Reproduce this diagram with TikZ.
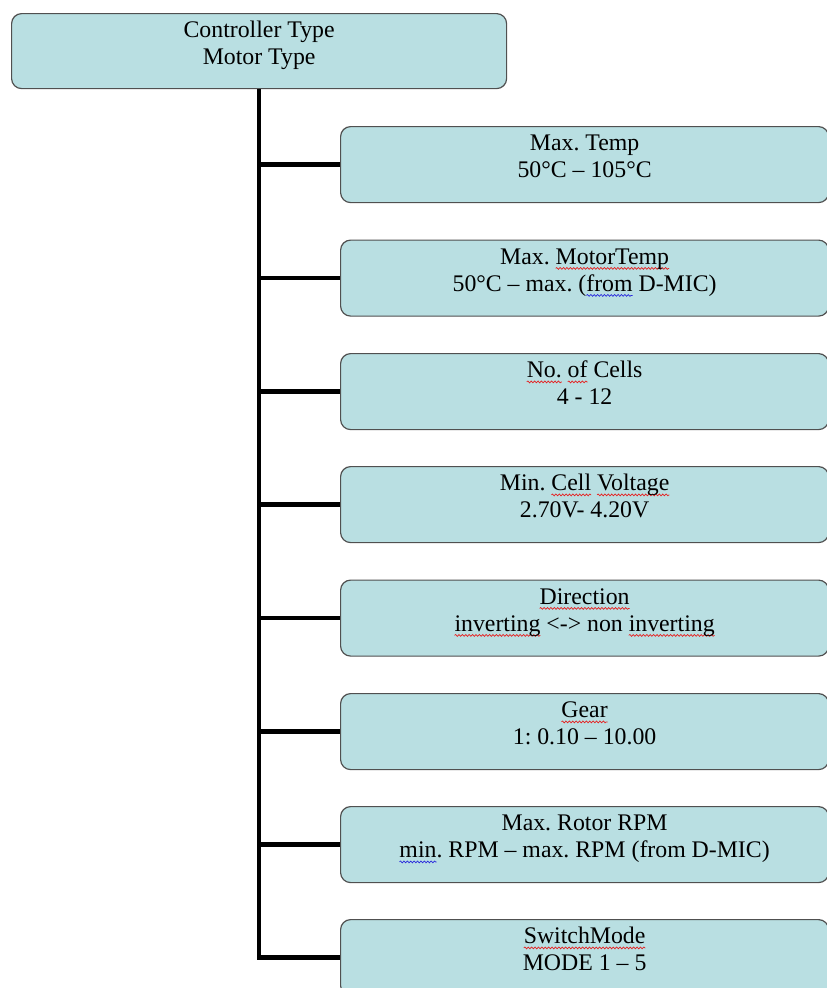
\documentclass[tikz,border=0pt]{standalone}
\usepackage{fontspec}
\setmainfont{Liberation Serif}
\usetikzlibrary{decorations.pathmorphing}
\definecolor{boxfill}{RGB}{185,223,226}
\definecolor{boxline}{RGB}{80,80,80}
\definecolor{spellred}{RGB}{230,30,30}
\definecolor{spellblue}{RGB}{40,40,220}
\frenchspacing
\newlength\wavelen
\newcommand\wavyword[2]{\settowidth\wavelen{#2}\hbox to 0pt{\tikz[overlay,baseline=0pt,x=1pt,y=1pt]{\draw[#1,line width=0.7pt,decorate,decoration={snake,amplitude=0.9pt,segment length=3.4pt}] (0pt,-4.2pt) -- (\wavelen,-4.2pt);}\hss}#2}
\newcommand\redwave[1]{\wavyword{spellred}{#1}}
\newcommand\bluewave[1]{\wavyword{spellblue}{#1}}
\begin{document}
\begin{tikzpicture}[x=1pt,y=-1pt,
  box/.style={draw=boxline, line width=1.2pt, fill=boxfill, rounded corners=10pt, anchor=north west, inner sep=0pt},
  topbox/.style={box, minimum width=495pt, minimum height=75pt},
  childbox/.style={box, minimum width=488pt, minimum height=76pt},
  lbl/.style={anchor=north, align=center, inner sep=0pt, font=\fontsize{23.8}{27}\selectfont\frenchspacing},
  conn/.style={line width=4.5pt, black}]
\useasboundingbox (0,0) rectangle (827,988);
\clip (0,0) rectangle (827,988);
% boxes
\node[topbox] (top) at (11,13) {};
\node[childbox] (b1) at (340,126) {};
\node[childbox] (b2) at (340,239.5) {};
\node[childbox] (b3) at (340,353) {};
\node[childbox] (b4) at (340,466) {};
\node[childbox] (b5) at (340,579.5) {};
\node[childbox] (b6) at (340,693) {};
\node[childbox] (b7) at (340,806) {};
\node[childbox] (b8) at (340,919) {};
% connectors
\draw[conn] (top.south) |- (b8.west);
\foreach \b in {b1,b2,b3,b4,b5,b6,b7}{
  \draw[conn] (top.south |- \b.west) -- (\b.west);
}
% labels
\node[lbl] (tl) at ([yshift=-5.6pt]top.north) {\strut Controller Type\\Motor Type};
\node[lbl] (l1) at ([yshift=-5.6pt]b1.north) {\strut Max. Temp\\50°C – 105°C};
\node[lbl] (l2) at ([yshift=-5.6pt]b2.north) {\strut Max. \redwave{MotorTemp}\\50°C – max. (\bluewave{from} D-MIC)};
\node[lbl] (l3) at ([yshift=-5.6pt]b3.north) {\strut \redwave{No.} \redwave{of} Cells\\4 - 12};
\node[lbl] (l4) at ([yshift=-5.6pt]b4.north) {\strut Min. \redwave{Cell} \redwave{Voltage}\\2.70V- 4.20V};
\node[lbl] (l5) at ([yshift=-5.6pt]b5.north) {\strut \redwave{Direction}\\\redwave{inverting} <-> non \redwave{inverting}};
\node[lbl] (l6) at ([yshift=-5.6pt]b6.north) {\strut \redwave{Gear}\\1: 0.10 – 10.00};
\node[lbl] (l7) at ([yshift=-5.6pt]b7.north) {\strut Max. Rotor RPM\\\bluewave{min}. RPM – max. RPM (from D-MIC)};
\node[lbl] (l8) at ([yshift=-5.6pt]b8.north) {\strut \redwave{SwitchMode}\\MODE 1 – 5};
\end{tikzpicture}
\end{document}
